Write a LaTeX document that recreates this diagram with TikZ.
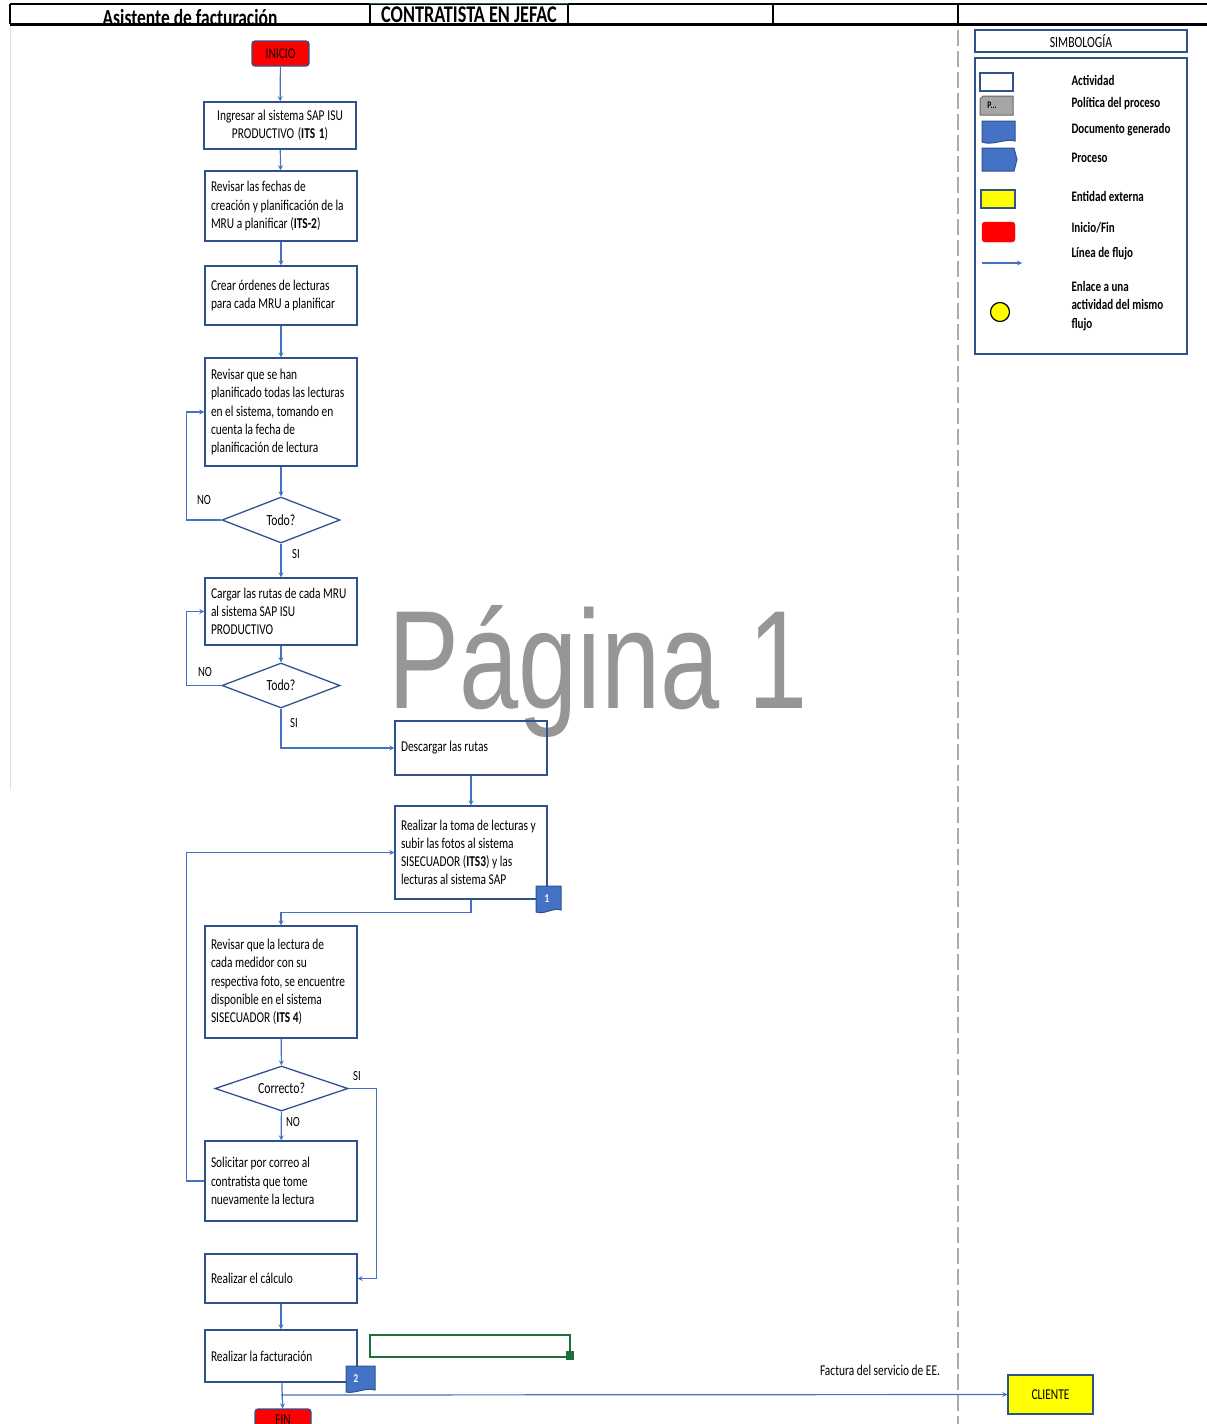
\documentclass[tikz,border=0pt]{standalone}
\usepackage{fontspec}
\setmainfont[FakeStretch=0.76]{Carlito}
\newfontfamily\marcafont[FakeStretch=0.76]{Liberation Sans}
\usetikzlibrary{shapes.geometric}
\definecolor{flujo}{RGB}{68,114,196}
\definecolor{borde}{RGB}{47,82,143}
\definecolor{marca}{RGB}{150,150,150}
\definecolor{verde}{RGB}{30,110,60}
\definecolor{amarillo}{RGB}{255,255,0}
\definecolor{rojo}{RGB}{255,0,0}
\tikzset{
    actividad/.style={draw=borde, line width=1.3pt, inner sep=6pt, text width=140pt, align=left, font=\fontsize{15}{18.2}\selectfont, execute at begin node={\spaceskip=0pt\xspaceskip=0pt\relax}},
    decision/.style={diamond, draw=borde, line width=1.3pt, inner sep=0pt, aspect=2.6, font=\fontsize{15.5}{16}\selectfont},
    extremo/.style={draw=borde, fill=rojo, rounded corners=3pt, line width=1.3pt, font=\fontsize{15}{16}\selectfont},
    leyenda/.style={anchor=west, font=\bfseries\fontsize{14.5}{18.5}\selectfont, align=left, execute at begin node={\spaceskip=0pt\xspaceskip=0pt\relax}},
    etiqueta/.style={font=\fontsize{14}{16}\selectfont},
    linea/.style={flujo, line width=1.2pt}
}
\begin{document}
\begin{tikzpicture}[>=stealth, x=1pt, y=-1pt]
\useasboundingbox (0,0) rectangle (1207,1424);

\node at (388,708)[anchor=base west, inner sep=0pt, text=marca, font=\marcafont\fontsize{140}{140}\selectfont]{Página 1};

% encabezado
\node at (190,25)[anchor=base, font=\bfseries\fontsize{23}{23}\selectfont]{Asistente de facturación};
\node at (469,23)[anchor=base, font=\bfseries\fontsize{24}{24}\selectfont]{CONTRATISTA EN JEFAC};
\draw[black, line width=1.5pt](10,4)--(1207,4);
\draw[black, line width=3pt](10,24)--(1207,24);
\foreach \x in {10,370,568,773,958}
{
    \draw[black, line width=1.5pt](\x,4)--(\x,24);
}
\draw[verde, line width=1pt](370,3)--(568,3);
\draw[flujo!20, line width=1pt](10,26)--(10,790);
\draw[marca!80, line width=2pt, dash pattern=on 16pt off 5pt](958,30)--(958,1424);

% simbologia
\node (simb) at (1081,41)[draw=borde, line width=1.2pt, minimum width=212pt, minimum height=22pt, font=\fontsize{15.5}{15}\selectfont]{SIMBOLOGÍA};
\draw[borde, line width=1.2pt](975,58) rectangle (1187,354);
\draw[borde, line width=1.2pt, fill=white](980,73) rectangle (1013,91);
\draw[black!60, fill=black!35, line width=1pt](983,96)--(1013,96)--(1013,115)--(980,115)--(980,99)--cycle;
\node at (992,105)[font=\bfseries\fontsize{10}{10}\selectfont]{P...};
\draw[borde, fill=flujo, line width=1pt](982,121)--(1015,121)--(1015,141) .. controls (1006,138) and (992,146) .. (982,142)--cycle;
\draw[borde, fill=flujo, line width=1pt](982,148)--(1014,148)--(1017,159.5)--(1014,171)--(982,171)--cycle;
\draw[borde, fill=amarillo, line width=1.2pt](981,190) rectangle (1015,208);
\draw[rojo, fill=rojo, rounded corners=3pt](982,222) rectangle (1015,242);
\draw[linea, ->](982,263)--(1022,263);
\draw[black, fill=amarillo, line width=1.2pt](1000,312) circle (9.5pt);
\node at (1068,80)[leyenda]{Actividad};
\node at (1068,104)[leyenda]{Política del proceso};
\node at (1068,130)[leyenda]{Documento generado};
\node at (1068,158)[leyenda]{Proceso};
\node at (1068,196)[leyenda]{Entidad externa};
\node at (1068,228)[leyenda]{Inicio/Fin};
\node at (1068,254)[leyenda]{Línea de flujo};
\node at (1068,306)[leyenda]{Enlace a una\\actividad del mismo\\flujo};

% flujo principal
\node (inicio) at (280.5,53.5)[extremo, minimum width=57pt, minimum height=25pt]{INICIO};
\node (its1) at (280,125.5)[actividad, align=center, minimum height=47pt]{Ingresar al sistema SAP ISU\\PRODUCTIVO (\textbf{ITS 1})};
\node (fechas) at (281,206)[actividad, minimum height=70pt]{Revisar las fechas de\\creación y planificación de la\\MRU a planificar (\textbf{ITS-2})};
\node (ordenes) at (281,295.5)[actividad, minimum height=59pt]{Crear órdenes de lecturas\\para cada MRU a planificar};
\node (planif) at (281,412)[actividad, minimum height=108pt]{Revisar que se han\\planificado todas las lecturas\\en el sistema, tomando en\\cuenta la fecha de\\planificación de lectura};
\node (todo1) at (281,520)[decision, minimum width=118pt, minimum height=46pt]{Todo?};
\node (rutas) at (281,611.5)[actividad, minimum height=67pt]{Cargar las rutas de cada MRU\\al sistema SAP ISU\\PRODUCTIVO};
\node (todo2) at (281,685.5)[decision, minimum width=118pt, minimum height=45pt]{Todo?};
\node (descarga) at (471,748)[actividad, minimum height=54pt]{Descargar las rutas};
\node (toma) at (471,852.5)[actividad, minimum height=93pt]{Realizar la toma de lecturas y\\subir las fotos al sistema\\SISECUADOR (\textbf{ITS3}) y las\\lecturas al sistema SAP};
\node (revfoto) at (281,982)[actividad, minimum height=112pt]{Revisar que la lectura de\\cada medidor con su\\respectiva foto, se encuentre\\disponible en el sistema\\SISECUADOR (\textbf{ITS 4})};
\node (correcto) at (281.5,1088.5)[decision, minimum width=133pt, minimum height=45pt]{Correcto?};
\node (correo) at (281,1181)[actividad, minimum height=80pt]{Solicitar por correo al\\contratista que tome\\nuevamente la lectura};
\node (calculo) at (281,1278.5)[actividad, minimum height=49pt]{Realizar el cálculo};
\node (factura) at (281,1356)[actividad, minimum height=52pt]{Realizar la facturación};
\node (fin) at (283,1420)[extremo, minimum width=56pt, minimum height=22pt]{FIN};
\node (cliente) at (1050.5,1394.5)[draw=borde, fill=amarillo, line width=1.3pt, minimum width=85pt, minimum height=39pt, font=\fontsize{15}{16}\selectfont]{CLIENTE};

% documentos
\draw[borde, fill=flujo, line width=1pt](536,886)--(561,886)--(561,910) .. controls (553,907) and (545,915) .. (536,912)--cycle;
\node (doc1) at (547,899)[text=white, font=\bfseries\fontsize{12}{12}\selectfont]{1};
\draw[borde, fill=flujo, line width=1pt](346,1366)--(375,1366)--(375,1390) .. controls (366,1387) and (355,1394) .. (346,1392)--cycle;
\node (doc2) at (356,1379)[text=white, font=\bfseries\fontsize{12}{12}\selectfont]{2};

\draw[verde, line width=2.5pt](370,1335) rectangle (570,1357);
\fill[verde](566,1351) rectangle (574,1360);

% conectores
\draw[linea, ->](inicio)--(its1);
\draw[linea, ->](its1)--(fechas);
\draw[linea, ->](fechas)--(ordenes);
\draw[linea, ->](ordenes)--(planif);
\draw[linea, ->](planif)--(todo1);
\draw[linea, ->](todo1)--(rutas);
\draw[linea, ->](todo1.west)--++(-35,0)|-(planif.west);
\draw[linea, ->](rutas)--(todo2);
\draw[linea, ->](todo2.west)--++(-35,0)|-(rutas.west);
\draw[linea, ->](todo2.south)|-(descarga.west);
\draw[linea, ->](descarga)--(toma);
\draw[linea, ->](toma.south)--++(0,13)-|(revfoto.north);
\draw[linea, ->](revfoto)--(correcto);
\draw[linea, ->](correcto)--(correo);
\draw[linea, ->](correcto.east)--++(28,0)|-(calculo.east);
\draw[linea, ->](correo.west)--++(-18,0)|-(toma.west);
\draw[linea, ->](calculo)--(factura);
\draw[linea, ->](factura)--(fin);
\coordinate (rama) at (281,1395);
\draw[linea, ->](rama)--(cliente.west);

\node at (204,500)[etiqueta]{NO};
\node at (296,554)[etiqueta]{SI};
\node at (205,672)[etiqueta]{NO};
\node at (294,723)[etiqueta]{SI};
\node at (357,1076)[etiqueta]{SI};
\node at (293,1122)[etiqueta]{NO};
\node at (880,1370)[etiqueta, font=\fontsize{15}{16}\selectfont]{Factura del servicio de EE.};

\end{tikzpicture}
\end{document}
